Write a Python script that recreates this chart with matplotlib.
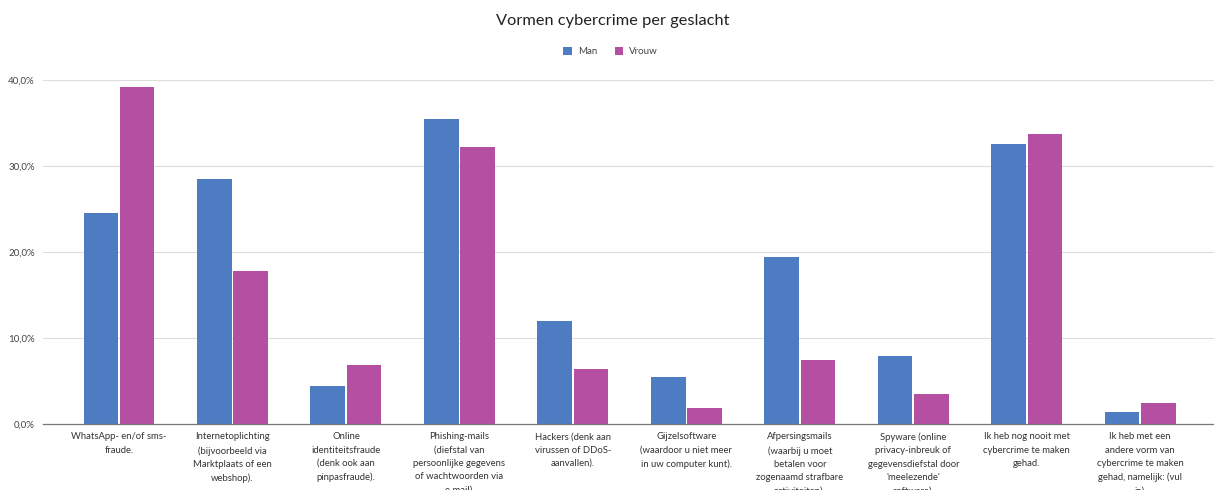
import matplotlib.pyplot as plt
import numpy as np
from matplotlib.ticker import FuncFormatter

categories = [
    "WhatsApp- en/of sms-\nfraude.",
    "Internetoplichting\n(bijvoorbeeld via\nMarktplaats of een\nwebshop).",
    "Online\nidentiteitsfraude\n(denk ook aan\npinpasfraude).",
    "Phishing-mails\n(diefstal van\npersoonlijke gegevens\nof wachtwoorden via\ne-mail).",
    "Hackers (denk aan\nvirussen of DDoS-\naanvallen).",
    "Gijzelsoftware\n(waardoor u niet meer\nin uw computer kunt).",
    "Afpersingsmails\n(waarbij u moet\nbetalen voor\nzogenaamd strafbare\nactiviteiten).",
    "Spyware (online\nprivacy-inbreuk of\ngegevensdiefstal door\n'meelezende'\nsoftware).",
    "Ik heb nog nooit met\ncybercrime te maken\ngehad.",
    "Ik heb met een\nandere vorm van\ncybercrime te maken\ngehad, namelijk: (vul\nin).",
]
man = [24.5, 28.5, 4.4, 35.5, 12.0, 5.5, 19.4, 7.9, 32.6, 1.4]
vrouw = [39.2, 17.8, 6.9, 32.2, 6.4, 1.9, 7.4, 3.5, 33.7, 2.4]
yticks = [0, 10, 20, 30, 40]

BLUE = "#4d7cc3"
PINK = "#b54fa1"

plt.rcParams["font.family"] = ["Lato", "DejaVu Sans"]

fig = plt.figure(figsize=(12.14, 4.9), dpi=100)
ax = fig.add_axes([0.0354, 0.1347, 0.9646, 0.702])

x = np.arange(len(categories))
w = 0.305
ax.bar(x - 0.16, man, w, color=BLUE, label="Man")
ax.bar(x + 0.16, vrouw, w, color=PINK, label="Vrouw")

ax.set_xlim(-0.67, 9.65)
ax.set_ylim(0, 40)
ax.set_yticks(yticks)
ax.yaxis.set_major_formatter(FuncFormatter(lambda v, p: f"{v:.1f}%".replace(".", ",")))
ax.set_xticks(x)
ax.set_xticklabels(categories, fontsize=6.8, linespacing=1.62, color="#333333")
ax.tick_params(axis="x", length=0, pad=6)
ax.tick_params(axis="y", length=0, pad=6, labelsize=7, labelcolor="#444444")

ax.grid(axis="y", color="#dddddd", linewidth=0.8)
ax.set_axisbelow(True)
for s in ["top", "right", "left"]:
    ax.spines[s].set_visible(False)
ax.spines["bottom"].set_color("#777777")
ax.spines["bottom"].set_linewidth(0.9)

fig.text(0.505, 0.958, "Vormen cybercrime per geslacht", ha="center", va="center",
         fontsize=11.8, color="#222222")
fig.legend(loc="center", bbox_to_anchor=(0.503, 0.895), ncol=2, frameon=False,
           fontsize=7, handlelength=0.9, handleheight=0.9, handletextpad=0.6,
           columnspacing=1.8, labelcolor="#444444")

fig.savefig("out.png", dpi=100)
